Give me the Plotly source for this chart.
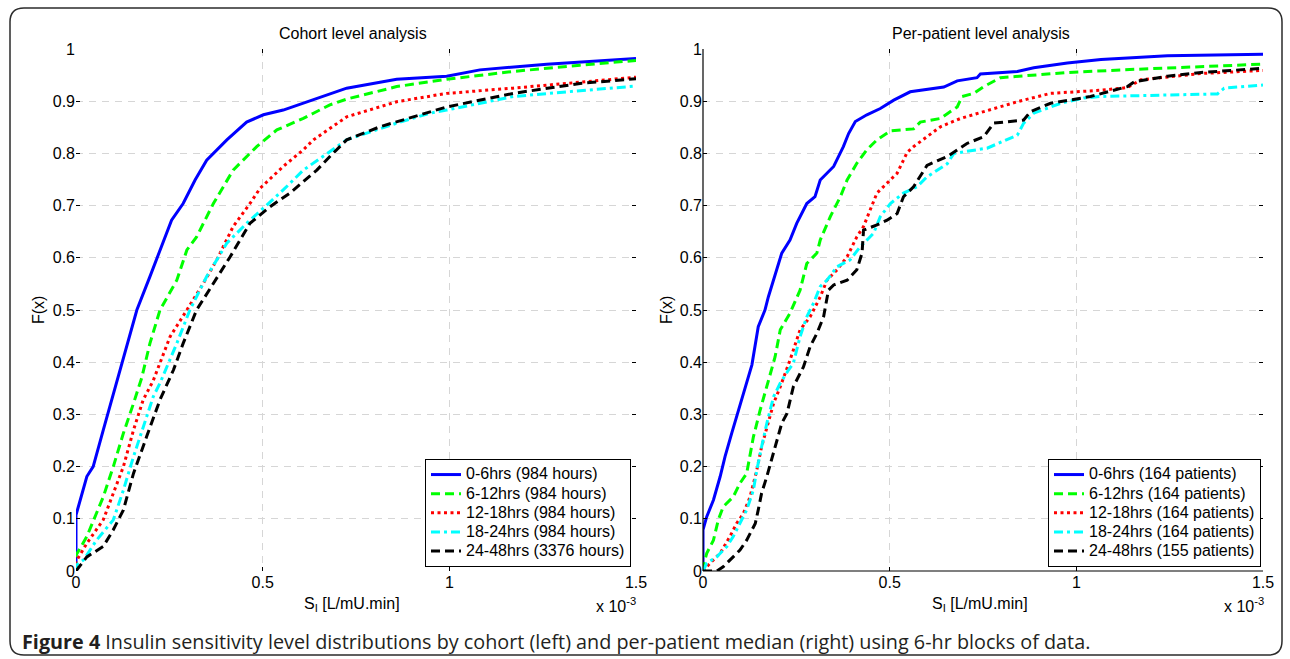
import plotly.graph_objects as go

# ---------------- data (S_I in units of 1e-3 L/mU.min) ----------------
series_names_left = ["0-6hrs (984 hours)", "6-12hrs (984 hours)", "12-18hrs (984 hours)",
                     "18-24hrs (984 hours)", "24-48hrs (3376 hours)"]
series_names_right = ["0-6hrs (164 patients)", "6-12hrs (164 patients)", "12-18hrs (164 patients)",
                      "18-24hrs (164 patients)", "24-48hrs (155 patients)"]

# Cohort level analysis
cohort_06_x = [0, 0, 0.029, 0.046, 0.073, 0.1, 0.127, 0.163, 0.198, 0.225, 0.256, 0.287, 0.319, 0.35, 0.404, 0.457, 0.502, 0.555, 0.609, 0.68, 0.725, 0.859, 0.993, 1.082, 1.261, 1.5]
cohort_06_y = [0, 0.107, 0.181, 0.2, 0.27, 0.34, 0.41, 0.5, 0.564, 0.615, 0.672, 0.704, 0.749, 0.787, 0.826, 0.86, 0.874, 0.883, 0.896, 0.914, 0.925, 0.942, 0.948, 0.96, 0.971, 0.982]
cohort_612_x = [0, 0, 0.029, 0.073, 0.1, 0.127, 0.154, 0.176, 0.198, 0.225, 0.27, 0.297, 0.323, 0.368, 0.421, 0.484, 0.538, 0.609, 0.636, 0.68, 0.725, 0.859, 0.993, 1.171, 1.35, 1.5]
cohort_612_y = [0, 0.03, 0.066, 0.142, 0.2, 0.264, 0.321, 0.37, 0.436, 0.5, 0.557, 0.615, 0.64, 0.704, 0.768, 0.813, 0.845, 0.867, 0.877, 0.893, 0.904, 0.928, 0.942, 0.957, 0.969, 0.978]
cohort_1218_x = [0, 0, 0.029, 0.073, 0.1, 0.127, 0.154, 0.18, 0.207, 0.225, 0.252, 0.297, 0.341, 0.377, 0.421, 0.466, 0.493, 0.555, 0.609, 0.636, 0.68, 0.725, 0.859, 0.993, 1.171, 1.35, 1.5]
cohort_1218_y = [0, 0.018, 0.053, 0.098, 0.149, 0.2, 0.27, 0.328, 0.365, 0.398, 0.449, 0.5, 0.551, 0.596, 0.66, 0.704, 0.733, 0.775, 0.807, 0.826, 0.848, 0.87, 0.899, 0.915, 0.925, 0.937, 0.946]
cohort_1824_x = [0, 0, 0.02, 0.055, 0.1, 0.127, 0.154, 0.18, 0.207, 0.225, 0.27, 0.305, 0.35, 0.404, 0.457, 0.511, 0.555, 0.609, 0.68, 0.725, 0.859, 0.948, 0.993, 1.171, 1.35, 1.5]
cohort_1824_y = [0, 0.011, 0.021, 0.059, 0.098, 0.155, 0.219, 0.276, 0.334, 0.36, 0.436, 0.5, 0.564, 0.628, 0.666, 0.701, 0.73, 0.768, 0.803, 0.826, 0.858, 0.877, 0.883, 0.909, 0.92, 0.929]
cohort_2448_x = [0, 0.029, 0.073, 0.1, 0.127, 0.154, 0.189, 0.225, 0.261, 0.287, 0.323, 0.368, 0.413, 0.466, 0.52, 0.573, 0.645, 0.68, 0.725, 0.814, 0.904, 0.993, 1.171, 1.35, 1.5]
cohort_2448_y = [0, 0.027, 0.047, 0.079, 0.117, 0.187, 0.257, 0.328, 0.385, 0.436, 0.5, 0.551, 0.602, 0.666, 0.698, 0.724, 0.768, 0.794, 0.826, 0.851, 0.87, 0.889, 0.915, 0.934, 0.943]

# Per-patient level analysis
patient_06_x = [0, 0, 0.01, 0.028, 0.046, 0.059, 0.077, 0.09, 0.104, 0.117, 0.131, 0.148, 0.166, 0.175, 0.189, 0.211, 0.233, 0.251, 0.278, 0.3, 0.314, 0.35, 0.376, 0.39, 0.408, 0.439, 0.475, 0.511, 0.555, 0.645, 0.681, 0.734, 0.743, 0.842, 0.886, 0.976, 1.066, 1.244, 1.5]
patient_06_y = [0, 0.079, 0.104, 0.136, 0.181, 0.219, 0.264, 0.296, 0.328, 0.36, 0.395, 0.468, 0.5, 0.525, 0.557, 0.609, 0.634, 0.666, 0.704, 0.717, 0.749, 0.775, 0.813, 0.838, 0.861, 0.874, 0.886, 0.902, 0.918, 0.927, 0.939, 0.945, 0.952, 0.957, 0.964, 0.973, 0.98, 0.987, 0.99]
patient_612_x = [0, 0, 0.01, 0.028, 0.041, 0.054, 0.081, 0.099, 0.117, 0.135, 0.153, 0.171, 0.193, 0.207, 0.233, 0.26, 0.278, 0.305, 0.314, 0.341, 0.368, 0.386, 0.412, 0.439, 0.466, 0.502, 0.564, 0.582, 0.636, 0.681, 0.694, 0.725, 0.752, 0.797, 0.886, 0.976, 1.155, 1.334, 1.5]
patient_612_y = [0, 0.008, 0.034, 0.059, 0.098, 0.123, 0.142, 0.168, 0.187, 0.257, 0.308, 0.353, 0.41, 0.462, 0.494, 0.538, 0.589, 0.609, 0.634, 0.679, 0.717, 0.749, 0.781, 0.807, 0.826, 0.843, 0.847, 0.86, 0.867, 0.889, 0.909, 0.915, 0.928, 0.945, 0.95, 0.955, 0.961, 0.966, 0.971]
patient_1218_x = [0, 0.019, 0.046, 0.072, 0.09, 0.108, 0.126, 0.144, 0.157, 0.171, 0.189, 0.207, 0.233, 0.26, 0.287, 0.314, 0.332, 0.359, 0.386, 0.412, 0.43, 0.448, 0.466, 0.493, 0.52, 0.547, 0.564, 0.6, 0.636, 0.69, 0.752, 0.842, 0.931, 1.065, 1.137, 1.173, 1.334, 1.5]
patient_1218_y = [0, 0.015, 0.034, 0.066, 0.091, 0.11, 0.142, 0.193, 0.238, 0.276, 0.321, 0.353, 0.404, 0.462, 0.487, 0.525, 0.557, 0.577, 0.602, 0.64, 0.66, 0.692, 0.724, 0.743, 0.762, 0.802, 0.813, 0.832, 0.851, 0.867, 0.88, 0.899, 0.915, 0.921, 0.926, 0.941, 0.953, 0.959]
patient_1824_x = [0, 0.01, 0.037, 0.064, 0.081, 0.099, 0.117, 0.135, 0.144, 0.157, 0.171, 0.189, 0.207, 0.229, 0.242, 0.26, 0.278, 0.296, 0.314, 0.332, 0.359, 0.394, 0.421, 0.457, 0.475, 0.502, 0.537, 0.573, 0.6, 0.654, 0.672, 0.761, 0.842, 0.859, 0.886, 0.958, 1.02, 1.065, 1.378, 1.396, 1.5]
patient_1824_y = [0, 0.015, 0.027, 0.047, 0.066, 0.091, 0.117, 0.155, 0.193, 0.238, 0.283, 0.334, 0.36, 0.385, 0.398, 0.449, 0.487, 0.513, 0.545, 0.557, 0.583, 0.596, 0.621, 0.647, 0.679, 0.704, 0.724, 0.736, 0.755, 0.78, 0.8, 0.81, 0.835, 0.858, 0.877, 0.896, 0.906, 0.909, 0.914, 0.925, 0.931]
patient_2448_x = [0, 0.037, 0.054, 0.072, 0.099, 0.117, 0.14, 0.148, 0.157, 0.171, 0.184, 0.198, 0.211, 0.225, 0.233, 0.242, 0.269, 0.287, 0.305, 0.323, 0.336, 0.35, 0.386, 0.412, 0.426, 0.43, 0.466, 0.493, 0.52, 0.537, 0.564, 0.6, 0.654, 0.707, 0.752, 0.779, 0.859, 0.877, 0.931, 1.038, 1.137, 1.155, 1.244, 1.334, 1.5]
patient_2448_y = [0, 0, 0.008, 0.021, 0.04, 0.059, 0.091, 0.117, 0.149, 0.181, 0.213, 0.251, 0.283, 0.302, 0.328, 0.353, 0.391, 0.43, 0.455, 0.487, 0.538, 0.548, 0.557, 0.577, 0.609, 0.653, 0.663, 0.672, 0.685, 0.717, 0.736, 0.777, 0.794, 0.819, 0.832, 0.858, 0.864, 0.88, 0.896, 0.909, 0.928, 0.937, 0.948, 0.955, 0.963]

x_tick_vals = [0, 0.5, 1, 1.5]
x_tick_text = ["0", "0.5", "1", "1.5"]
y_tick_vals = [0, 0.1, 0.2, 0.3, 0.4, 0.5, 0.6, 0.7, 0.8, 0.9, 1]
y_tick_text = ["0", "0.1", "0.2", "0.3", "0.4", "0.5", "0.6", "0.7", "0.8", "0.9", "1"]

# ---------------- styling ----------------
W, H = 1290, 659
FONT = "Liberation Sans, Arial, sans-serif"
FS = 16
LEG_ROW_FS = 12.4   # controls legend row spacing
styles = [
    dict(color="#0000ff", width=3, dash="solid"),
    dict(color="#00ff00", width=3, dash="9px,5px"),
    dict(color="#ff0000", width=3, dash="3px,3.5px"),
    dict(color="#00ffff", width=3, dash="9px,4px,3px,4px"),
    dict(color="#000000", width=3, dash="9px,5px"),
]

left_data = [(cohort_06_x, cohort_06_y), (cohort_612_x, cohort_612_y), (cohort_1218_x, cohort_1218_y),
             (cohort_1824_x, cohort_1824_y), (cohort_2448_x, cohort_2448_y)]
right_data = [(patient_06_x, patient_06_y), (patient_612_x, patient_612_y), (patient_1218_x, patient_1218_y),
              (patient_1824_x, patient_1824_y), (patient_2448_x, patient_2448_y)]

def leg_label(s):
    return f"<span style='font-size:16px'>{s}</span>"

fig = go.Figure()
for (xs, ys), nm, st in zip(left_data, series_names_left, styles):
    fig.add_trace(go.Scatter(x=xs, y=ys, mode="lines", name=leg_label(nm), line=st,
                             xaxis="x", yaxis="y", legend="legend"))
for (xs, ys), nm, st in zip(right_data, series_names_right, styles):
    fig.add_trace(go.Scatter(x=xs, y=ys, mode="lines", name=leg_label(nm), line=st,
                             xaxis="x2", yaxis="y2", legend="legend2"))

def px_x(p):
    return p / W

def px_y(p):
    return (H - p) / H

ax_common = dict(
    showgrid=True, gridcolor="#d6d6d6", griddash="7px,6px", gridwidth=1,
    zeroline=False, showline=False, ticks="inside", ticklen=4, tickcolor="black",
    mirror="ticks", automargin=False, tickfont=dict(family=FONT, size=FS, color="black"),
)

leg_common = dict(bgcolor="white", bordercolor="black", borderwidth=1,
                  font=dict(family=FONT, size=LEG_ROW_FS, color="black"), itemwidth=30,
                  tracegroupgap=0)

fig.update_layout(
    template="none",
    width=W, height=H,
    margin=dict(l=0, r=0, t=0, b=0, pad=0, autoexpand=False),
    paper_bgcolor="white", plot_bgcolor="white",
    font=dict(family=FONT, size=FS, color="black"),
    xaxis=dict(domain=[px_x(76), px_x(636)], range=[0, 1.5], tickvals=x_tick_vals, ticktext=x_tick_text,
               anchor="y", **ax_common),
    yaxis=dict(domain=[px_y(571), px_y(49)], range=[0, 1], tickvals=y_tick_vals, ticktext=y_tick_text,
               anchor="x", **ax_common),
    xaxis2=dict(domain=[px_x(703), px_x(1263)], range=[0, 1.5], tickvals=x_tick_vals, ticktext=x_tick_text,
                anchor="y2", **ax_common),
    yaxis2=dict(domain=[px_y(571), px_y(49)], range=[0, 1], tickvals=y_tick_vals, ticktext=y_tick_text,
                anchor="x2", **ax_common),
    legend=dict(x=px_x(631), xanchor="right", y=px_y(567), yanchor="bottom", **leg_common),
    legend2=dict(x=px_x(1261), xanchor="right", y=px_y(567), yanchor="bottom", **leg_common),
    showlegend=True,
)

# axis lines of right panel (left + bottom only)
fig.add_shape(type="line", xref="x2 domain", yref="y2 domain", x0=0, x1=0, y0=0, y1=1,
              line=dict(color="black", width=1.2))
fig.add_shape(type="line", xref="x2 domain", yref="y2 domain", x0=0, x1=1, y0=0, y1=0,
              line=dict(color="black", width=1.2))

# rounded outer frame
l, r, t, b = 10, 1282, 8, 655
rad = 14
path = (f"M {px_x(l+rad)} {px_y(t)} L {px_x(r-rad)} {px_y(t)} Q {px_x(r)} {px_y(t)} {px_x(r)} {px_y(t+rad)} "
        f"L {px_x(r)} {px_y(b-rad)} Q {px_x(r)} {px_y(b)} {px_x(r-rad)} {px_y(b)} "
        f"L {px_x(l+rad)} {px_y(b)} Q {px_x(l)} {px_y(b)} {px_x(l)} {px_y(b-rad)} "
        f"L {px_x(l)} {px_y(t+rad)} Q {px_x(l)} {px_y(t)} {px_x(l+rad)} {px_y(t)} Z")
fig.add_shape(type="path", xref="paper", yref="paper", path=path,
              line=dict(color="#2b2b2b", width=1.5), layer="below")

def ann(text, x, y, size=FS, **kw):
    fig.add_annotation(text=text, x=px_x(x), y=px_y(y), xref="paper", yref="paper",
                       xanchor="center", yanchor="middle",
                       showarrow=False, font=dict(family=FONT, size=size, color="black"), **kw)

ann("Cohort level analysis", 353, 33)
ann("Per-patient level analysis", 981, 33)
ann("F(x)", 38, 310, textangle=-90)
ann("F(x)", 666, 310, textangle=-90)
ann("S<sub>I</sub> [L/mU.min]", 352, 604)
ann("S<sub>I</sub> [L/mU.min]", 980, 604)
ann("x 10<sup>-3</sup>", 616, 605)
ann("x 10<sup>-3</sup>", 1244, 605)

fig.add_annotation(
    text="<b>Figure 4</b> Insulin sensitivity level distributions by cohort (left) and per-patient median (right) using 6-hr blocks of data.",
    x=px_x(20), y=px_y(641), xref="paper", yref="paper", xanchor="left", yanchor="middle", showarrow=False,
    font=dict(family="Open Sans, Noto Sans, sans-serif", size=19.8, color="#231f20"))

fig.write_html("out.html", config={"displayModeBar": False},
               post_script="document.body.style.margin='0';document.body.style.overflow='hidden';")
